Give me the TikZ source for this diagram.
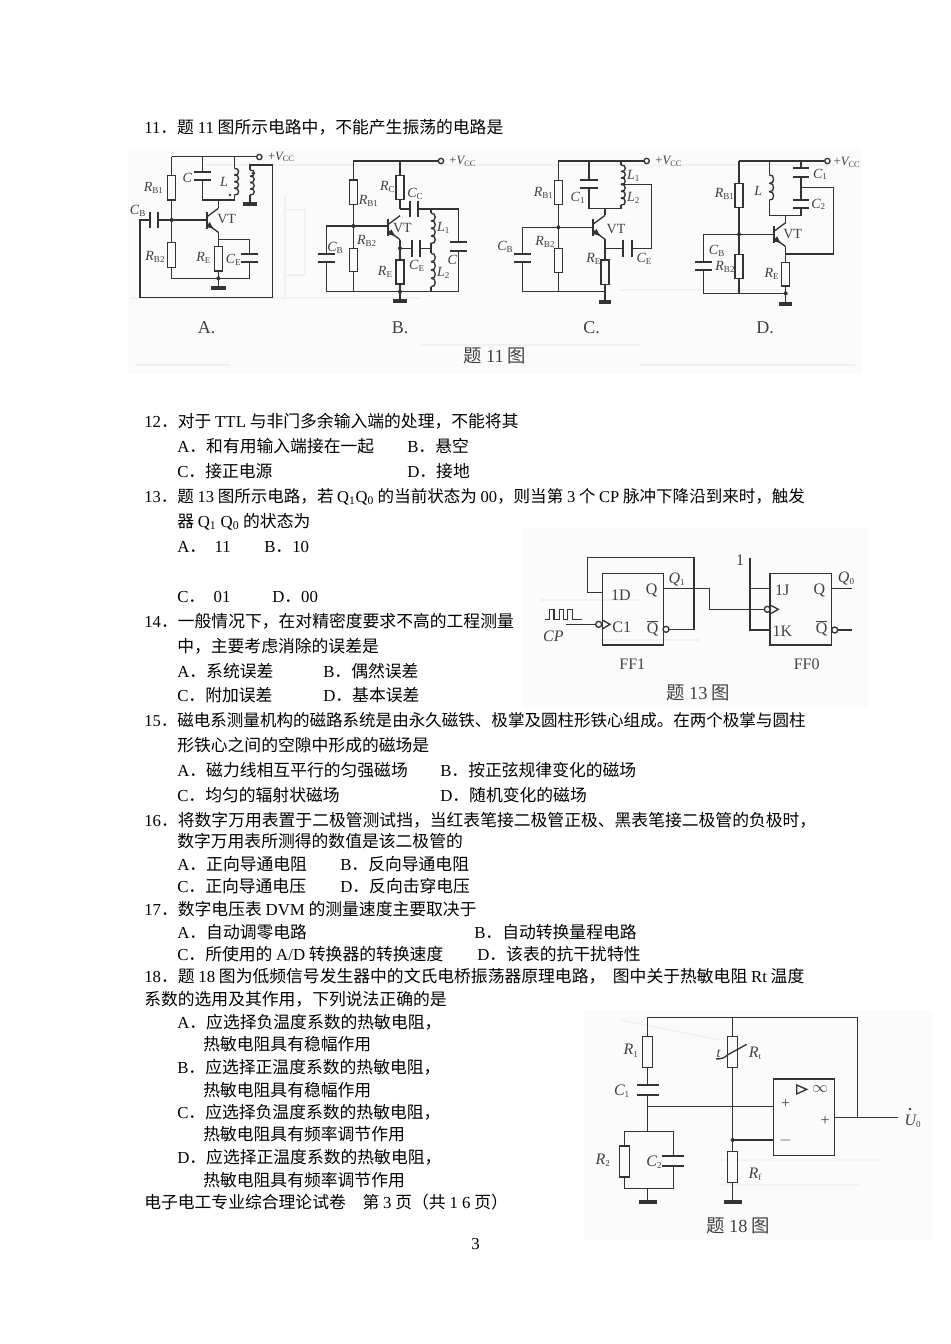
\documentclass[tikz,border=0pt]{standalone}
\usepackage{fontspec}
\setmainfont{Liberation Serif}
\newfontfamily\cjk{Noto Sans CJK SC}
\usetikzlibrary{arrows.meta}
\definecolor{figbg}{gray}{0.985}
\definecolor{ghost}{gray}{0.945}
\definecolor{ink}{gray}{0.2}
\definecolor{lab}{gray}{0.25}
\newcounter{tn}
\newcommand{\e}[1]{{\normalfont #1}}
% page text: x, y centre of the line, text
\newcommand{\tl}[3]{\stepcounter{tn}\node[txt] (t\arabic{tn}) at (#1,#2+6) {#3};}
% figure label
\newcommand{\lb}[3]{\stepcounter{tn}\node[flab] (t\arabic{tn}) at (#1,#2) {#3};}
\newcommand{\RS}[2]{{\itshape #1}\raisebox{-.3ex}{\fontsize{6.8}{8}\selectfont #2}}
\newcommand{\VC}{{\fontsize{9.5}{11}\selectfont +{\itshape V}\raisebox{-.3ex}{\fontsize{6.2}{8}\selectfont CC}}}
\newcommand{\zh}[3]{\stepcounter{tn}\node[ftitle] (t\arabic{tn}) at (#1,#2) {#3};}
\newcommand{\resv}[4][12]{\draw[wire,fill=figbg] (#2-#1,#3) rectangle (#2+#1,#4);}
\newcommand{\caph}[4][26]{\draw[plate] (#2-#1,#3) -- (#2+#1,#3) (#2-#1,#4) -- (#2+#1,#4);}
\newcommand{\capv}[4][25]{\draw[plate] (#2,#4-#1) -- (#2,#4+#1) (#3,#4-#1) -- (#3,#4+#1);}
\newcommand{\gnd}[3][22]{\draw[gndbar] (#2-#1,#3) -- (#2+#1,#3);}
\newcommand{\jn}[2]{\fill[ink] (#1,#2) circle[radius=6];}
\newcommand{\term}[2]{\draw[wire,fill=white] (#1,#2) circle[radius=8];}
% coil: x,y1,y2,n bumps
\newcommand{\coil}[4]{\pgfmathsetmacro{\hh}{(#3-#2)/#4}\foreach \k in {1,...,#4}{\pgfmathsetmacro{\yy}{#2+(\k-1)*\hh}\draw[wire] (#1,\yy) .. controls (#1+17,\yy-0.15*\hh) and (#1+17,\yy+1.15*\hh) .. (#1,\yy+\hh);}}
% transistor: bar x, y centre, rail x
\newcommand{\npn}[3]{\draw[plate] (#1,#2-25) -- (#1,#2+25);
 \draw[wire] (#1,#2-10) -- (#3,#2-36);
 \draw[wire] (#1,#2+10) -- (#3,#2+36);
 \draw[wire,-{Latex[length=6pt,width=5pt]}] (#1,#2+10) -- ({#1+0.65*(#3-#1)},#2+27);}
\tikzset{
 wire/.style={draw=ink,line width=1pt},
 plate/.style={draw=ink,line width=1.5pt},
 gndbar/.style={draw=ink,line width=2.8pt},
 txt/.style={anchor=base west,inner sep=0pt,font=\fontsize{12.6}{15}\selectfont\cjk,text=black},
 tight/.style={font=\fontsize{12.4}{15}\selectfont\cjk},
 flab/.style={inner sep=0pt,font=\fontsize{10.5}{13}\selectfont,text=lab},
 ftitle/.style={inner sep=0pt,font=\fontsize{13.8}{16}\selectfont\cjk,text=lab},
 zs/.style={x=.25pt,y=-.25pt},
 gh/.style={draw=ghost,line width=1pt}
}
\begin{document}
\begin{tikzpicture}[x=.75pt,y=-.75pt]
\useasboundingbox (0,0) rectangle (950,1344);
\fill[white] (0,0) rectangle (950,1344);
% scan backgrounds
\fill[figbg] (128,148) rectangle (862,374);
\fill[figbg] (522,528) rectangle (868,708);
\fill[figbg] (584,1010) rectangle (932,1240);
% faint ghost of the reverse side
\draw[gh] (205,165) -- (835,165) (285,195) -- (285,300) (285,210) rectangle (305,275);
\draw[gh] (130,298) -- (420,298) (620,290) -- (780,290);
\draw[gh] (420,345) -- (640,345) (135,365) -- (230,365) (640,365) -- (855,365);
\draw[gh] (540,600) -- (640,600) (600,640) -- (700,640);
\draw[gh] (620,1020) -- (720,1040) (720,1160) -- (880,1160) (720,1185) -- (860,1185);

% ---------- text ----------
\tl{144}{128}{\e{11}．题 \e{11} 图所示电路中，不能产生振荡的电路是}
\tl{144}{421}{\e{12}．对于 \e{TTL} 与非门多余输入端的处理，不能将其}
\tl{177}{446}{\e{A}．和有用输入端接在一起}
\tl{407}{446}{\e{B}．悬空}
\tl{177}{471}{\e{C}．接正电源}
\tl{407}{471}{\e{D}．接地}
\stepcounter{tn}\node[txt,tight] (t\arabic{tn}) at (144,502) {\e{13}．题 \e{13} 图所示电路，若 \e{Q\textsubscript{1}Q\textsubscript{0}} 的当前状态为 \e{00}，则当第 \e{3} 个 \e{CP} 脉冲下降沿到来时，触发};
\tl{177}{521}{器 \e{Q\textsubscript{1} Q\textsubscript{0}} 的状态为}
\tl{177}{546}{\e{A}．\e{\ \ 11}}
\tl{264}{546}{\e{B}．\e{10}}
\tl{177}{596}{\e{C}．\e{\ \ 01}}
\tl{272}{596}{\e{D}．\e{00}}
\tl{144}{621}{\e{14}．一般情况下，在对精密度要求不高的工程测量}
\tl{177}{646}{中，主要考虑消除的误差是}
\tl{177}{671}{\e{A}．系统误差}
\tl{323}{671}{\e{B}．偶然误差}
\tl{177}{695}{\e{C}．附加误差}
\tl{323}{695}{\e{D}．基本误差}
\stepcounter{tn}\node[txt,tight] (t\arabic{tn}) at (144,726) {\e{15}．磁电系测量机构的磁路系统是由永久磁铁、极掌及圆柱形铁心组成。在两个极掌与圆柱};
\tl{177}{745}{形铁心之间的空隙中形成的磁场是}
\tl{177}{770}{\e{A}．磁力线相互平行的匀强磁场}
\tl{440}{770}{\e{B}．按正弦规律变化的磁场}
\tl{177}{795}{\e{C}．均匀的辐射状磁场}
\tl{440}{795}{\e{D}．随机变化的磁场}
\tl{144}{820}{\e{16}．将数字万用表置于二极管测试挡，当红表笔接二极管正极、黑表笔接二极管的负极时，}
\tl{177}{841}{数字万用表所测得的数值是该二极管的}
\tl{177}{864}{\e{A}．正向导通电阻}
\tl{340}{864}{\e{B}．反向导通电阻}
\tl{177}{886}{\e{C}．正向导通电压}
\tl{340}{886}{\e{D}．反向击穿电压}
\tl{144}{909}{\e{17}．数字电压表 \e{DVM} 的测量速度主要取决于}
\tl{177}{932}{\e{A}．自动调零电路}
\tl{474}{932}{\e{B}．自动转换量程电路}
\tl{177}{954}{\e{C}．所使用的 \e{A/D} 转换器的转换速度}
\tl{477}{954}{\e{D}．该表的抗干扰特性}
\tl{144}{976}{\e{18}．题 \e{18} 图为低频信号发生器中的文氏电桥振荡器原理电路，\ \ 图中关于热敏电阻 \e{Rt} 温度}
\tl{144}{999}{系数的选用及其作用，下列说法正确的是}
\tl{177}{1022}{\e{A}．应选择负温度系数的热敏电阻，}
\tl{203}{1044}{热敏电阻具有稳幅作用}
\tl{177}{1067}{\e{B}．应选择正温度系数的热敏电阻，}
\tl{203}{1090}{热敏电阻具有稳幅作用}
\tl{177}{1112}{\e{C}．应选择负温度系数的热敏电阻，}
\tl{203}{1134}{热敏电阻具有频率调节作用}
\tl{177}{1157}{\e{D}．应选择正温度系数的热敏电阻，}
\tl{203}{1180}{热敏电阻具有频率调节作用}
\tl{144}{1202}{电子电工专业综合理论试卷　第 \e{3} 页（共 \e{1 6} 页）}
\tl{471}{1243}{\e{3}}

% ---------- figure 11 A, B ----------
\begin{scope}[shift={(125,145)},zs]
% A
\draw[wire] (140,35) -- (395,35);
\term{403}{36}
\lb{468}{36}{\VC}
\draw[wire] (140,35) -- (140,400) -- (373,400) -- (373,352);
\resv{140}{92}{165}
\resv{140}{293}{367}
\jn{140}{225}
\draw[wire] (100,225) -- (245,225);
\capv{75}{100}{225}
\draw[wire] (75,225) -- (45,225) -- (45,458) -- (443,458) -- (443,60) -- (375,60) -- (375,75);
\coil{375}{75}{150}{4}
\draw[wire] (375,150) -- (375,175);
\gnd[20]{375}{176}
\fill[ink] (383,85) circle[radius=4];
\draw[wire] (232,35) -- (232,80) (232,105) -- (232,165) -- (328,165) -- (328,150) (328,70) -- (328,35);
\caph{232}{80}{105}
\coil{328}{70}{150}{4}
\fill[ink] (315,150) circle[radius=4];
\draw[wire] (280,165) -- (280,190);
\npn{245}{226}{280}
\draw[wire] (280,262) -- (280,400);
\draw[wire] (280,283) -- (373,283) -- (373,328);
\caph{373}{328}{352}
\resv{280}{305}{378}
\jn{280}{400}
\draw[wire] (280,400) -- (280,428);
\gnd{280}{428}
\lb{85}{130}{\RS{R}{B1}}
\lb{187}{98}{\itshape C}
\lb{297}{112}{\itshape L}
\lb{38}{197}{\RS{C}{B}}
\lb{305}{222}{VT}
\lb{90}{335}{\RS{R}{B2}}
\lb{235}{340}{\RS{R}{E}}
\lb{325}{345}{\RS{C}{E}}
\lb{245}{548}{\fontsize{13.5}{15}\selectfont A.}
% B
\draw[wire] (685,48) -- (940,48);
\term{948}{48}
\lb{1012}{50}{\VC}
\draw[wire] (685,48) -- (685,440);
\resv{685}{105}{178}
\resv{685}{310}{380}
\jn{685}{243}
\draw[wire] (605,326) -- (605,243) -- (790,243);
\draw[wire] (605,352) -- (605,440) -- (1000,440) -- (1000,317);
\caph{605}{326}{352}
\draw[wire] (825,48) -- (825,192);
\resv{825}{92}{163}
\npn{790}{248}{825}
\draw[wire] (825,192) -- (855,192) (880,192) -- (1000,192) -- (1000,292);
\capv{855}{880}{192}
\caph{1000}{292}{317}
\draw[wire] (918,192) -- (918,205) (918,295) -- (918,325) (918,425) -- (918,440);
\coil{918}{205}{295}{4}
\coil{918}{325}{425}{4}
\draw[wire] (825,284) -- (825,440);
\resv{825}{345}{417}
\jn{825}{310}
\draw[wire] (825,310) -- (860,310) (885,310) -- (918,310);
\capv{860}{885}{310}
\jn{825}{440}
\draw[wire] (825,440) -- (825,468);
\gnd[20]{825}{469}
\lb{730}{168}{\RS{R}{B1}}
\lb{787}{127}{\RS{R}{C}}
\lb{870}{147}{\RS{C}{C}}
\lb{832}{248}{VT}
\lb{955}{250}{\RS{L}{1}}
\lb{725}{287}{\RS{R}{B2}}
\lb{630}{310}{\RS{C}{B}}
\lb{875}{362}{\RS{C}{E}}
\lb{780}{380}{\RS{R}{E}}
\lb{955}{385}{\RS{L}{2}}
\lb{982}{345}{\itshape C}
\lb{825}{548}{\fontsize{13.5}{15}\selectfont B.}
\end{scope}

% ---------- figure 11 C, D ----------
\begin{scope}[shift={(490,145)},zs]
% C
\draw[wire] (205,48) -- (462,48);
\term{470}{48}
\lb{535}{50}{\VC}
\draw[wire] (205,48) -- (205,440);
\resv{205}{107}{178}
\resv{205}{310}{382}
\jn{205}{247}
\draw[wire] (97,326) -- (97,247) -- (310,247);
\draw[wire] (97,352) -- (97,440) -- (345,440);
\caph[25]{97}{326}{352}
\draw[wire] (297,48) -- (297,105) (297,130) -- (297,190) -- (393,190) -- (393,180) (393,60) -- (393,48);
\caph{297}{105}{130}
\coil{393}{60}{118}{3}
\coil{393}{118}{180}{3}
\fill[ink] (396,118) circle[radius=4];
\draw[wire] (396,118) -- (485,118) -- (485,310) -- (425,310);
\draw[wire] (345,190) -- (345,211);
\npn{310}{247}{345}
\draw[wire] (345,283) -- (345,465);
\resv{345}{345}{418}
\draw[wire] (345,310) -- (400,310);
\capv{400}{425}{310}
\gnd[17]{345}{471}
\lb{160}{143}{\RS{R}{B1}}
\lb{263}{158}{\RS{C}{1}}
\lb{430}{93}{\RS{L}{1}}
\lb{430}{158}{\RS{L}{2}}
\lb{378}{253}{VT}
\lb{165}{290}{\RS{R}{B2}}
\lb{45}{305}{\RS{C}{B}}
\lb{310}{342}{\RS{R}{E}}
\lb{462}{342}{\RS{C}{E}}
\lb{305}{548}{\fontsize{13.5}{15}\selectfont C.}
% D
\draw[wire] (747,48) -- (1003,48);
\term{1012}{48}
\lb{1070}{52}{\VC}
\draw[wire] (747,48) -- (747,445);
\resv{747}{115}{187}
\resv{747}{328}{400}
\jn{747}{268}
\draw[wire] (640,350) -- (640,268) -- (852,268);
\draw[wire] (640,375) -- (640,445) -- (887,445);
\caph[25]{640}{350}{375}
\draw[wire] (838,48) -- (838,90) (838,165) -- (838,212) -- (933,212) -- (933,188) (933,165) -- (933,95) (933,70) -- (933,48);
\coil{838}{90}{165}{3}
\caph[25]{933}{70}{95}
\caph[25]{933}{165}{188}
\draw[wire] (933,128) -- (1030,128) -- (1030,327) -- (887,327);
\draw[wire] (887,212) -- (887,233);
\npn{852}{269}{887}
\draw[wire] (887,305) -- (887,475);
\resv{887}{352}{423}
\jn{887}{445}
\gnd[20]{887}{476}
\lb{805}{137}{\itshape L}
\lb{990}{88}{\RS{C}{1}}
\lb{985}{178}{\RS{C}{2}}
\lb{703}{148}{\RS{R}{B1}}
\lb{908}{267}{VT}
\lb{680}{318}{\RS{C}{B}}
\lb{705}{365}{\RS{R}{B2}}
\lb{845}{388}{\RS{R}{E}}
\lb{825}{548}{\fontsize{13.5}{15}\selectfont D.}
\end{scope}
\zh{495}{356}{题 \e{11} 图}

% ---------- figure 13 ----------
\begin{scope}[shift={(530,540)},zs]
\draw[wire] (217,100) rectangle (400,315);
\draw[wire] (720,100) rectangle (905,315);
\draw[wire] (217,158) -- (172,158) -- (172,52) -- (492,52) -- (492,268) -- (418,268);
\draw[wire] (408,268) circle[radius=9];
\draw[wire] (400,145) -- (538,145) -- (538,208) -- (702,208);
\draw[wire] (712,208) circle[radius=9];
\draw[wire] (720,195) -- (745,208) -- (720,222);
\draw[wire] (108,253) -- (197,253);
\draw[wire] (206,253) circle[radius=9];
\draw[wire] (217,240) -- (240,253) -- (217,267);
\draw[wire] (45,238) -- (58,238) -- (58,208) -- (72,208) -- (72,238) -- (88,238) -- (88,208) -- (100,208) -- (100,238) -- (113,238) -- (113,208) -- (128,208) -- (128,238) -- (155,238);
\draw[wire] (660,55) -- (660,270) -- (720,270) (660,145) -- (720,145);
\draw[wire] (905,145) -- (965,145);
\draw[wire] (923,270) -- (965,270);
\draw[wire] (914,270) circle[radius=9];
\lb{630}{62}{\fontsize{12}{14}\selectfont 1}
\lb{273}{165}{\fontsize{12}{14}\selectfont 1D}
\lb{365}{150}{\fontsize{12}{14}\selectfont Q}
\lb{275}{262}{\fontsize{12}{14}\selectfont C1}
\lb{368}{265}{\fontsize{12}{14}\selectfont $\overline{\mbox{Q}}$}
\lb{440}{118}{\fontsize{12}{14}\selectfont \RS{Q}{1}}
\lb{757}{152}{\fontsize{12}{14}\selectfont 1J}
\lb{868}{152}{\fontsize{12}{14}\selectfont Q}
\lb{757}{275}{\fontsize{12}{14}\selectfont 1K}
\lb{875}{265}{\fontsize{12}{14}\selectfont $\overline{\mbox{Q}}$}
\lb{948}{115}{\fontsize{12}{14}\selectfont \RS{Q}{0}}
\lb{307}{372}{\fontsize{12}{14}\selectfont FF1}
\lb{830}{372}{\fontsize{12}{14}\selectfont FF0}
\lb{70}{290}{\fontsize{12}{14}\selectfont\itshape CP}
\zh{505}{458}{题 \e{13} 图}
\end{scope}

% ---------- figure 18 ----------
\begin{scope}[shift={(590,1005)},zs]
\draw[wire] (173,380) -- (173,37) -- (802,37) -- (802,337);
\draw[wire] (733,337) -- (925,337);
\resv[15]{173}{95}{187}
\fill[figbg] (140,241) rectangle (206,269);
\caph[33]{173}{240}{270}
\draw[wire] (173,305) -- (550,305);
\draw[wire] (428,37) -- (428,590);
\resv[15]{428}{95}{187}
\draw[wire] (378,162) .. controls (395,162) and (405,158) .. (412,150) -- (470,118);
\lb{386}{147}{\itshape t}
\draw[wire] (428,405) -- (550,405);
\jn{428}{405}
\resv[15]{428}{440}{533}
\gnd[27]{428}{590}
\draw[wire,fill=figbg] (550,222) rectangle (733,452);
\draw[wire] (620,240) -- (650,253) -- (620,267) -- cycle;
\lb{690}{253}{\fontsize{13}{14}\selectfont $\infty$}
\lb{587}{297}{\fontsize{12}{14}\selectfont +}
\lb{705}{347}{\fontsize{12}{14}\selectfont +}
\lb{587}{405}{\fontsize{12}{14}\selectfont $-$}
\draw[wire] (103,423) -- (103,380) -- (250,380) -- (250,453);
\draw[wire] (250,483) -- (250,550) -- (103,550) -- (103,516);
\resv[15]{103}{423}{516}
\caph[33]{250}{453}{483}
\draw[wire] (173,550) -- (173,590);
\gnd[27]{173}{590}
\lb{122}{137}{\fontsize{12}{14}\selectfont\RS{R}{1}}
\lb{95}{258}{\fontsize{12}{14}\selectfont\RS{C}{1}}
\lb{495}{145}{\fontsize{12}{14}\selectfont\RS{R}{t}}
\lb{38}{465}{\fontsize{12}{14}\selectfont\RS{R}{2}}
\lb{192}{472}{\fontsize{12}{14}\selectfont\RS{C}{2}}
\lb{495}{507}{\fontsize{12}{14}\selectfont\RS{R}{f}}
\lb{968}{350}{\fontsize{12}{14}\selectfont\RS{U}{0}}
\fill[ink] (960,312) circle[radius=4];
\zh{445}{662}{题 \e{18} 图}
\end{scope}
\end{tikzpicture}
\end{document}
